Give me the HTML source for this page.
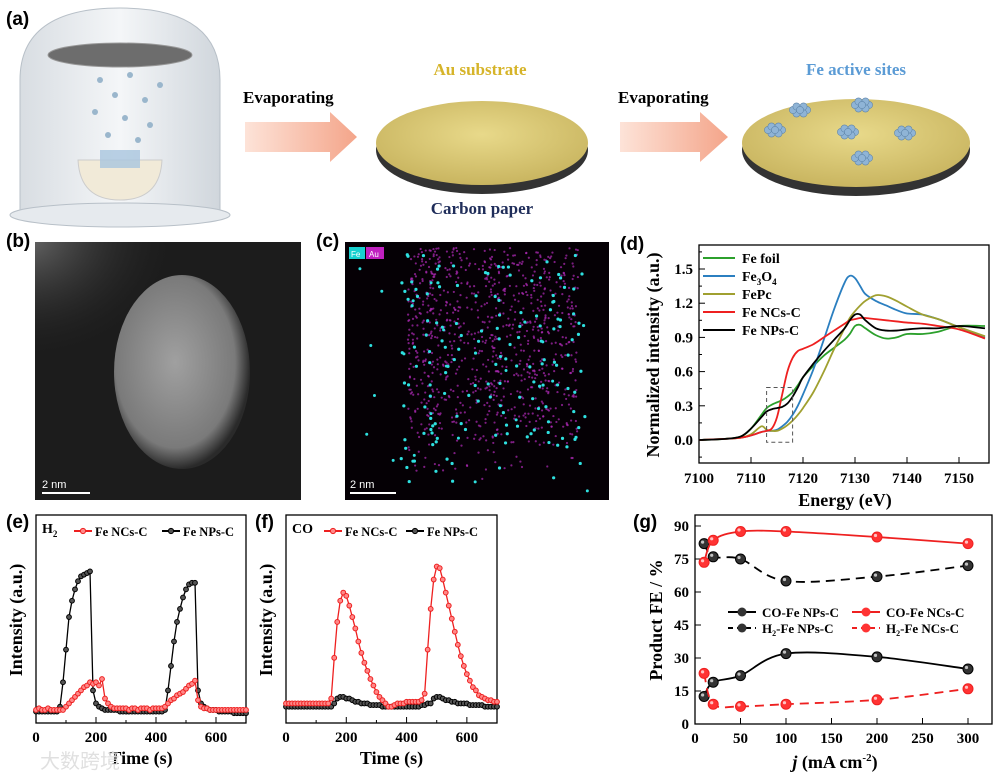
<!DOCTYPE html>
<html><head><meta charset="utf-8">
<style>
body{margin:0;background:#fff;}
svg{display:block;font-family:"Liberation Serif",serif;}
.lab{font-family:"Liberation Sans",sans-serif;font-weight:bold;font-size:19px;}
.tk{font-size:15px;font-weight:bold;}
.ttl{font-size:18px;font-weight:bold;}
.leg{font-size:14px;font-weight:bold;}
</style></head>
<body>
<svg id="fig" width="998" height="776" viewBox="0 0 998 776">
<defs>
<radialGradient id="gDisk" cx="50%" cy="40%" r="60%"><stop offset="0" stop-color="#e8d98a"/><stop offset="1" stop-color="#c9b560"/></radialGradient>
<linearGradient id="gArrow" x1="0" x2="1"><stop offset="0" stop-color="#fde3d8"/><stop offset="1" stop-color="#f4a58a"/></linearGradient>
<radialGradient id="gBlob" cx="45%" cy="45%" r="55%"><stop offset="0" stop-color="#a0a0a0"/><stop offset="0.8" stop-color="#7a7a7a"/><stop offset="1" stop-color="#2a2a2a"/></radialGradient>
<radialGradient id="gHaze" cx="30%" cy="20%" r="70%"><stop offset="0" stop-color="#6a6a6a"/><stop offset="1" stop-color="#1c1c1c" stop-opacity="0"/></radialGradient>
<linearGradient id="gJar" x1="0" x2="1"><stop offset="0" stop-color="#d8dde2"/><stop offset="0.5" stop-color="#f4f6f8"/><stop offset="1" stop-color="#d0d6dc"/></linearGradient>
<clipPath id="cb"><rect x="35" y="242" width="266" height="258"/></clipPath>
</defs>

<!-- Panel (a) -->
<g>
<text class="lab" x="6" y="25">(a)</text>
<path d="M20,215 L20,80 Q20,8 120,8 Q220,8 220,80 L220,215 Z" fill="url(#gJar)" stroke="#b8c0c8"/>
<ellipse cx="120" cy="215" rx="110" ry="12" fill="#e6eaee" stroke="#b8c0c8"/>
<ellipse cx="120" cy="55" rx="72" ry="12" fill="#6d6d6d" stroke="#999"/>
<g fill="#9ab6cc">
<circle cx="100" cy="80" r="3"/><circle cx="130" cy="75" r="3"/><circle cx="115" cy="95" r="3"/><circle cx="145" cy="100" r="3"/><circle cx="95" cy="112" r="3"/><circle cx="125" cy="118" r="3"/><circle cx="150" cy="125" r="3"/><circle cx="108" cy="135" r="3"/><circle cx="138" cy="140" r="3"/><circle cx="160" cy="85" r="3"/>
</g>
<path d="M78,160 Q80,200 120,200 Q160,200 162,160 Z" fill="#f1ead8" stroke="#ccc"/>
<rect x="100" y="150" width="40" height="18" fill="#a9c6de" opacity="0.8"/>
<text x="243" y="103" font-size="17" font-weight="bold">Evaporating</text>
<polygon points="245,122 330,122 330,112 357,137 330,162 330,152 245,152" fill="url(#gArrow)"/>
<text x="480" y="75" font-size="17" font-weight="bold" fill="#d6b429" text-anchor="middle">Au substrate</text>
<ellipse cx="482" cy="150" rx="106" ry="44" fill="#333"/>
<ellipse cx="482" cy="143" rx="106" ry="42" fill="url(#gDisk)"/>
<text x="482" y="214" font-size="17" font-weight="bold" fill="#1f2d5a" text-anchor="middle">Carbon paper</text>
<text x="618" y="103" font-size="17" font-weight="bold">Evaporating</text>
<polygon points="620,122 700,122 700,112 728,137 700,162 700,152 620,152" fill="url(#gArrow)"/>
<text x="856" y="75" font-size="17" font-weight="bold" fill="#5b9bd5" text-anchor="middle">Fe active sites</text>
<ellipse cx="856" cy="150" rx="114" ry="46" fill="#333"/>
<ellipse cx="856" cy="143" rx="114" ry="44" fill="url(#gDisk)"/>
<g fill="#8fb4d6" stroke="#5f86ab" stroke-width="0.6" id="clusters"></g>
</g>

<!-- Panel (b) -->
<g>
<text class="lab" x="6" y="247">(b)</text>
<rect x="35" y="242" width="266" height="258" fill="#1c1c1c"/>
<g clip-path="url(#cb)">
<ellipse cx="70" cy="290" rx="110" ry="90" fill="url(#gHaze)"/>
<ellipse cx="182" cy="372" rx="68" ry="97" fill="url(#gBlob)"/>
</g>
<line x1="42" y1="493" x2="90" y2="493" stroke="#fff" stroke-width="2"/>
<text x="42" y="488" fill="#fff" font-size="11" font-family="Liberation Sans">2 nm</text>
</g>

<!-- Panel (c) -->
<g>
<text class="lab" x="316" y="247">(c)</text>
<rect x="345" y="242" width="264" height="258" fill="#050005"/>
<g id="edsDots"></g>
<rect x="349" y="247" width="16" height="12" fill="#18d0d0"/><text x="351" y="257" font-size="8" fill="#fff" font-family="Liberation Sans">Fe</text>
<rect x="366" y="247" width="18" height="12" fill="#c020c0"/><text x="369" y="257" font-size="8" fill="#fff" font-family="Liberation Sans">Au</text>
<line x1="350" y1="493" x2="396" y2="493" stroke="#fff" stroke-width="2"/>
<text x="350" y="488" fill="#fff" font-size="11" font-family="Liberation Sans">2 nm</text>
</g>

<text class="lab" x="620" y="250">(d)</text>
<text class="lab" x="6" y="528">(e)</text>
<text class="lab" x="255" y="528">(f)</text>
<text class="lab" x="633" y="528">(g)</text>

<g id="pd"></g>
<g id="pe"></g>
<g id="pf"></g>
<g id="pg"></g>
<text x="40" y="768" font-size="20" fill="#e0e0e0" font-family="Liberation Sans, 'Noto Sans CJK SC', sans-serif">大数跨境</text>
</svg>
<script>
// ---- Panel d data ----
const dEnergy=[7100,7105,7108,7110,7112,7113,7114,7115,7116,7117,7118,7119,7120,7122,7124,7126,7128,7129,7130,7131,7132,7134,7136,7138,7140,7143,7146,7150,7155];
const dFeFoil=[0,0.01,0.03,0.1,0.22,0.28,0.31,0.33,0.35,0.38,0.42,0.48,0.55,0.65,0.74,0.81,0.88,0.93,1.0,1.01,0.98,0.92,0.89,0.9,0.93,0.93,0.95,1.0,1.0];
const dFe3O4=[0,0.01,0.02,0.04,0.07,0.08,0.08,0.09,0.12,0.16,0.22,0.3,0.4,0.62,0.88,1.15,1.38,1.44,1.42,1.35,1.28,1.22,1.18,1.14,1.11,1.1,1.06,0.99,0.9];
const dFePc=[0,0.01,0.02,0.05,0.12,0.09,0.08,0.08,0.1,0.13,0.17,0.22,0.28,0.42,0.6,0.8,0.98,1.07,1.13,1.18,1.22,1.27,1.26,1.22,1.17,1.1,1.06,0.99,0.91];
const dFeNCs=[0,0.01,0.02,0.04,0.07,0.08,0.1,0.2,0.4,0.6,0.72,0.78,0.8,0.84,0.9,0.96,1.02,1.05,1.06,1.07,1.07,1.06,1.05,1.04,1.03,1.02,1.0,0.97,0.89];
const dFeNPs=[0,0.01,0.03,0.1,0.2,0.25,0.27,0.28,0.29,0.32,0.38,0.46,0.55,0.67,0.78,0.88,0.98,1.05,1.1,1.1,1.05,0.98,0.96,0.96,0.97,0.98,0.98,1.0,0.98];
const dYTicks=[0.0,0.3,0.6,0.9,1.2,1.5];
const dXTicks=[7100,7110,7120,7130,7140,7150];
const dLegend=["Fe foil","Fe3O4","FePc","Fe NCs-C","Fe NPs-C"];
// ---- Panel e/f data (10 s steps, 0..700 s) ----
const efTime=[0,10,20,30,40,50,60,70,80,90,100,110,120,130,140,150,160,170,180,190,200,210,220,230,240,250,260,270,280,290,300,310,320,330,340,350,360,370,380,390,400,410,420,430,440,450,460,470,480,490,500,510,520,530,540,550,560,570,580,590,600,610,620,630,640,650,660,670,680,690,700];
const eNPs=[7,7,7,7,7,7,7,7,10,25,45,65,75,82,87,90,91,92,93,20,12,10,9,8,8,8,8,8,7,7,7,7,7,7,7,7,7,7,7,7,7,7,7,8,20,35,50,62,70,77,82,85,86,86,20,12,10,9,8,8,8,7,7,7,7,7,6,6,6,6,6];
const eNCs=[8,9,8,8,9,8,8,8,8,8,10,12,14,16,18,20,22,23,25,24,25,23,27,15,12,10,9,9,9,9,9,8,9,9,8,9,9,9,8,9,9,9,9,10,12,14,15,17,18,19,21,23,24,26,14,10,9,9,8,8,8,8,8,8,8,8,8,8,8,8,8];
const fNCs=[12,12,12,12,12,12,12,12,12,12,12,12,12,12,12,15,40,62,75,80,78,72,65,58,50,43,37,32,27,23,19,16,14,12,10,10,11,12,12,12,13,13,13,13,13,14,18,45,70,88,96,95,88,80,72,64,56,48,41,35,30,26,22,20,17,16,15,14,14,13,13];
const fNPs=[10,10,10,10,10,10,10,10,10,10,10,10,10,10,10,10,12,15,16,16,15,15,14,13,13,12,12,12,11,11,11,11,10,10,10,10,10,10,10,10,10,10,10,10,10,11,11,12,12,15,16,16,15,14,14,13,13,12,12,12,12,11,11,11,11,11,10,10,10,10,10];
const efXTicks=[0,200,400,600];
// ---- Panel g data ----
const gJ=[10,20,50,100,200,300];
const gCO_NPs=[12.5,19,22,32,30.5,25];
const gH2_NPs=[82,76,75,65,67,72];
const gCO_NCs=[73.5,83.5,87.5,87.5,85,82];
const gH2_NCs=[23,9,8,9,11,16];
const gYTicks=[0,15,30,45,60,75,90];
const gXTicks=[0,50,100,150,200,250,300];

const NS="http://www.w3.org/2000/svg";
function mk(parent,tag,attrs,text){const e=document.createElementNS(NS,tag);for(const k in attrs)e.setAttribute(k,attrs[k]);if(text!==undefined)e.textContent=text;parent.appendChild(e);return e;}
function lin(d0,d1,r0,r1){return v=>r0+(v-d0)*(r1-r0)/(d1-d0);}
function smooth(pts){let d="M"+pts[0][0]+","+pts[0][1];for(let i=0;i<pts.length-1;i++){const p0=pts[i-1]||pts[i],p1=pts[i],p2=pts[i+1],p3=pts[i+2]||p2;const c1x=p1[0]+(p2[0]-p0[0])/6,c1y=p1[1]+(p2[1]-p0[1])/6,c2x=p2[0]-(p3[0]-p1[0])/6,c2y=p2[1]-(p3[1]-p1[1])/6;d+=" C"+c1x+","+c1y+" "+c2x+","+c2y+" "+p2[0]+","+p2[1];}return d;}
function frame(g,x0,y0,x1,y1){const r=mk(g,'rect',{x:x0,y:y0,width:x1-x0,height:y1-y0,fill:'none',stroke:'#000','stroke-width':1.3});}

// Decorative: clusters & EDS dots
(function(){const c=document.getElementById('clusters');const cs=[[775,130],[862,105],[848,132],[905,133],[862,158],[800,110]];
cs.forEach(p=>{for(let a=0;a<7;a++){const ang=a*Math.PI/3;const dx=a==6?0:Math.cos(ang)*7,dy=a==6?0:Math.sin(ang)*4;mk(c,'circle',{cx:p[0]+dx,cy:p[1]+dy,r:3.6});}});
const g=document.getElementById('edsDots');let s=7;function rnd(){s=(s*9301+49297)%233280;return s/233280;}
for(let i=0;i<900;i++){const x=408+rnd()*170,y=248+rnd()*240*(0.6+0.4*rnd());mk(g,'circle',{cx:x,cy:y,r:1.1,fill:'#b02ab8',opacity:0.7});}
for(let i=0;i<160;i++){const x=400+rnd()*185,y=250+rnd()*235;mk(g,'circle',{cx:x,cy:y,r:1.6,fill:'#2ee0e0'});}
for(let i=0;i<20;i++){mk(g,'circle',{cx:350+rnd()*255,cy:250+rnd()*245,r:1.5,fill:'#2ee0e0'});}})();

// Panel d
(function(){const g=document.getElementById('pd');const X=lin(7100,7150,699,959),Y=lin(0,1.5,440,269);
frame(g,699,245,989,463);
dYTicks.forEach(t=>{mk(g,'line',{x1:699,x2:705,y1:Y(t),y2:Y(t),stroke:'#000'});const tx=mk(g,'text',{x:693,y:Y(t)+5,class:'tk','text-anchor':'end'},t.toFixed(1));});
for(let t=-0.15;t<1.7;t+=0.3)mk(g,'line',{x1:699,x2:702,y1:Y(t),y2:Y(t),stroke:'#000'});
dXTicks.forEach(t=>{mk(g,'line',{x1:X(t),x2:X(t),y1:463,y2:457,stroke:'#000'});const tx=mk(g,'text',{x:X(t),y:483,class:'tk','text-anchor':'middle'},t);});
const yt=mk(g,'text',{x:0,y:0,class:'ttl','text-anchor':'middle',transform:'translate(659,355) rotate(-90)'},'Normalized intensity (a.u.)');
const xt=mk(g,'text',{x:845,y:506,class:'ttl','text-anchor':'middle'},'Energy (eV)');
const series=[[dFeFoil,'#2ca02c'],[dFe3O4,'#2b7fc0'],[dFePc,'#a0a030'],[dFeNCs,'#ee2020'],[dFeNPs,'#000']];
const cp=mk(g,'clipPath',{id:'cd'});mk(cp,'rect',{x:699,y:245,width:290,height:218});
series.forEach((s,i)=>{const p=mk(g,'path',{d:smooth(dEnergy.map((e,k)=>[X(e),Y(s[0][k])])),fill:'none',stroke:s[1],'stroke-width':1.8,'clip-path':'url(#cd)'});
const ly=258+i*18;mk(g,'line',{x1:703,x2:735,y1:ly,y2:ly,stroke:s[1],'stroke-width':2});
const lt=mk(g,'text',{x:742,y:ly+5,class:'leg'});
if(i==1){lt.innerHTML='Fe<tspan font-size="9" dy="4">3</tspan><tspan dy="-4">O</tspan><tspan font-size="9" dy="4">4</tspan>';}else lt.textContent=dLegend[i];});
const bx=mk(g,'rect',{x:X(7113),y:Y(0.46),width:X(7118)-X(7113),height:Y(-0.02)-Y(0.46),fill:'none',stroke:'#555','stroke-dasharray':'4,3'});})();

// Panels e & f
function tsPanel(id,x0,x1,serA,colA,serB,colB,gas,legX){const g=document.getElementById(id);const X=lin(0,700,x0,x1),Y=lin(0,100,723,560);
frame(g,x0,515,x1,723);
efXTicks.forEach(t=>{mk(g,'line',{x1:X(t),x2:X(t),y1:723,y2:717,stroke:'#000'});const tx=mk(g,'text',{x:X(t),y:742,class:'tk','text-anchor':'middle'},t);});
for(let t=100;t<700;t+=200)mk(g,'line',{x1:X(t),x2:X(t),y1:723,y2:720,stroke:'#000'});
const yt=mk(g,'text',{x:0,y:0,class:'ttl','text-anchor':'middle',transform:'translate('+(x0-14)+',620) rotate(-90)'},'Intensity (a.u.)');
const xt=mk(g,'text',{x:(x0+x1)/2,y:764,class:'ttl','text-anchor':'middle'},'Time (s)');
[[serB,colB,'b'],[serA,colA,'a']].forEach(s=>{const pts=efTime.map((t,k)=>[X(t),Y(s[0][k])]);
const l=mk(g,'polyline',{points:pts.map(p=>p.join(',')).join(' '),fill:'none',stroke:s[1],'stroke-width':1.3});
pts.forEach(p=>{const c=mk(g,'circle',{cx:p[0],cy:p[1],r:2.4,fill:s[1]==='#000'?'#555':'#f88',stroke:s[1],'stroke-width':1});});});
const gt=mk(g,'text',{x:x0+6,y:533,'font-size':14,'font-weight':'bold'});
if(gas=='H2')gt.innerHTML='H<tspan font-size="9" dy="4">2</tspan>';else gt.textContent=gas;
[[colA,'Fe NCs-C',legX[0]],[colB,'Fe NPs-C',legX[1]]].forEach(L=>{mk(g,'line',{x1:L[2],x2:L[2]+18,y1:531,y2:531,stroke:L[0],'stroke-width':2});mk(g,'circle',{cx:L[2]+9,cy:531,r:2.6,fill:L[0]=='#000'?'#555':'#f88',stroke:L[0]});const t=mk(g,'text',{x:L[2]+21,y:536,'font-size':12.5,'font-weight':'bold'},L[1]);});}
tsPanel('pe',36,246,eNCs,'#ee2020',eNPs,'#000','H2',[74,162]);
tsPanel('pf',286,497,fNCs,'#ee2020',fNPs,'#000','CO',[324,406]);

// Panel g
(function(){const g=document.getElementById('pg');const X=lin(0,300,695,968),Y=lin(0,90,724,526);
frame(g,695,515,992,724);
gYTicks.forEach(t=>{mk(g,'line',{x1:695,x2:701,y1:Y(t),y2:Y(t),stroke:'#000'});const tx=mk(g,'text',{x:689,y:Y(t)+5,class:'tk','text-anchor':'end'},t);});
gXTicks.forEach(t=>{mk(g,'line',{x1:X(t),x2:X(t),y1:724,y2:718,stroke:'#000'});const tx=mk(g,'text',{x:X(t),y:743,class:'tk','text-anchor':'middle'},t);});
const yt=mk(g,'text',{x:0,y:0,class:'ttl','text-anchor':'middle',transform:'translate(662,620) rotate(-90)'},'Product FE / %');
const xt=mk(g,'text',{x:835,y:768,class:'ttl','text-anchor':'middle'});xt.innerHTML='<tspan font-style="italic">j</tspan> (mA cm<tspan font-size="11" dy="-7">-2</tspan><tspan dy="7">)</tspan>';
const ser=[[gCO_NPs,'#000',''],[gH2_NPs,'#000','9,6'],[gCO_NCs,'#ee2020',''],[gH2_NCs,'#ee2020','9,6']];
ser.forEach((s,i)=>{const pts=gJ.map((j,k)=>[X(j),Y(s[0][k])]);const p=mk(g,'path',{d:smooth(pts),fill:'none',stroke:s[1],'stroke-width':1.8,'stroke-dasharray':s[2]});
pts.forEach(q=>{const c=mk(g,'circle',{cx:q[0],cy:q[1],r:5,fill:s[1]=='#000'?'#333':'#f33',stroke:s[1]});mk(g,'circle',{cx:q[0]-1.5,cy:q[1]-1.5,r:1.6,fill:'#fff',opacity:0.7});});});
const L=[[728,612,'#000','','CO-Fe NPs-C'],[728,628,'#000','5,4','H2-Fe NPs-C'],[852,612,'#ee2020','','CO-Fe NCs-C'],[852,628,'#ee2020','5,4','H2-Fe NCs-C']];
L.forEach(l=>{mk(g,'line',{x1:l[0],x2:l[0]+28,y1:l[1],y2:l[1],stroke:l[2],'stroke-width':2,'stroke-dasharray':l[3]});mk(g,'circle',{cx:l[0]+14,cy:l[1],r:4.5,fill:l[2]=='#000'?'#333':'#f33'});
const t=mk(g,'text',{x:l[0]+34,y:l[1]+5,'font-size':13,'font-weight':'bold'});
if(l[4].startsWith('H2'))t.innerHTML='H<tspan font-size="8" dy="3">2</tspan><tspan dy="-3">'+l[4].slice(2)+'</tspan>';else t.textContent=l[4];});})();
</script>
</body></html>
